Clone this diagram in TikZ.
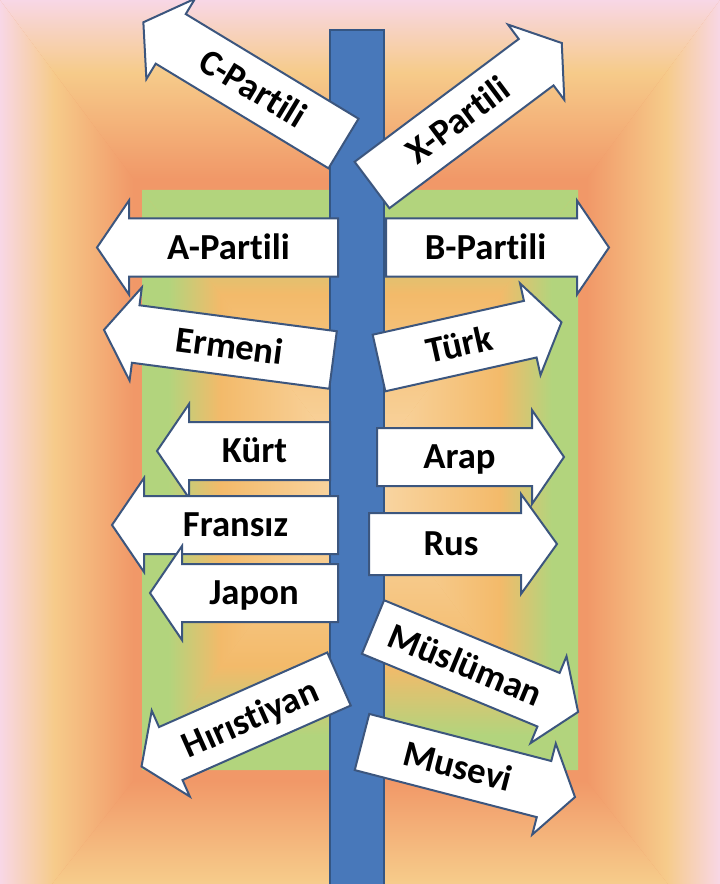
\documentclass[tikz,border=0pt]{standalone}
\usepackage{fontspec}
\setmainfont{Carlito}[Ligatures=NoCommon]

\definecolor{bgpink}{RGB}{248,215,230}
\definecolor{bgpeach}{RGB}{246,203,138}
\definecolor{bgorange}{RGB}{241,152,104}
\definecolor{gngreen}{RGB}{178,212,125}
\definecolor{gnorange}{RGB}{243,186,106}
\definecolor{gnpeach}{RGB}{250,218,172}
\definecolor{poleblue}{RGB}{72,120,186}
\definecolor{poleedge}{RGB}{52,86,132}
\definecolor{signedge}{RGB}{60,86,126}

\pgfdeclarehorizontalshading{bgband}{100bp}{color(0bp)=(bgpink); color(25bp)=(bgpink); color(44bp)=(bgpeach); color(72bp)=(bgorange); color(100bp)=(bgorange)}
\pgfdeclarehorizontalshading{gnband}{100bp}{color(0bp)=(gngreen); color(25bp)=(gngreen); color(31bp)=(gngreen); color(43bp)=(gnorange); color(75bp)=(gnpeach); color(100bp)=(gnpeach)}

\tikzset{every picture/.style={line width=0.75pt}}
\tikzset{
  signarrow/.style={draw=signedge, fill=white, line width=1.5pt, line join=miter},
  signtext/.style={inner sep=0pt, text height=17.7pt, text depth=0pt, font=\bfseries\fontsize{27.5}{31}\selectfont},
}

\begin{document}
\begin{tikzpicture}[x=0.75pt,y=0.75pt,yscale=-1,xscale=1]
        \useasboundingbox (0,0) rectangle (720,884);
        \clip (0,0) rectangle (720,884);

        %Shape: Background bands [id:dp2071]
        \fill [bgorange] (0,0) rectangle (720,884) ;
        \shade [shading=bgband] (0,0) -- (142,190) -- (142,770) -- (0,950) -- cycle ;
        \shade [shading=bgband, shading angle=180] (720,0) -- (578,190) -- (578,770) -- (720,950) -- cycle ;
        \shade [shading=bgband, shading angle=-90] (0,0) -- (720,0) -- (578,190) -- (142,190) -- cycle ;
        \shade [shading=bgband, shading angle=90] (142,770) -- (578,770) -- (720,950) -- (0,950) -- cycle ;

        %Shape: Rectangle [id:dp3385]
        \fill [gnorange] (142,190) rectangle (578,770) ;
        \shade [shading=gnband] (142,190) -- (360,480) -- (142,770) -- cycle ;
        \shade [shading=gnband, shading angle=180] (578,190) -- (360,480) -- (578,770) -- cycle ;
        \shade [shading=gnband, shading angle=-90] (142,190) -- (578,190) -- (360,480) -- cycle ;
        \shade [shading=gnband, shading angle=90] (142,770) -- (578,770) -- (360,480) -- cycle ;

        %Shape: Rectangle [id:dp5519]
        \draw [draw=poleedge, fill=poleblue, line width=1.2pt] (330,30) -- (384,30) -- (384,890) -- (330,890) -- cycle ;

        %Shape: Left Arrow [id:dp1142]
        \draw [signarrow] [shift={(343.5,143.5)}, rotate=31.2] (0,-29) -- (-202,-29) -- (-202,-47) -- (-234,0) -- (-202,47) -- (-202,29) -- (0,29) -- cycle ;
        % Text Node
        \draw [shift={(343.5,143.5)}, rotate=31.2] (-106,0) node (cpartili) [signtext, rotate=-31.2] {C-Partili};

        %Shape: Right Arrow [id:dp7760]
        \draw [signarrow] [shift={(372,185)}, rotate=-36.8] (0,-29) -- (205,-29) -- (205,-47) -- (237,0) -- (205,47) -- (205,29) -- (0,29) -- cycle ;
        % Text Node
        \draw [shift={(372,185)}, rotate=-36.8] (107.5,0) node (xpartili) [signtext, rotate=36.8] {X-Partili};

        %Shape: Left Arrow [id:dp4418]
        \draw [signarrow] [shift={(338,247.5)}] (0,-29) -- (-209,-29) -- (-209,-47) -- (-241,0) -- (-209,47) -- (-209,29) -- (0,29) -- cycle ;
        % Text Node
        \draw (228.5,247.5) node (apartili) [signtext] {A-Partili};

        %Shape: Right Arrow [id:dp9025]
        \draw [signarrow] [shift={(386,247.5)}] (0,-29) -- (191,-29) -- (191,-47) -- (223,0) -- (191,47) -- (191,29) -- (0,29) -- cycle ;
        % Text Node
        \draw (485.5,247.5) node (bpartili) [signtext] {B-Partili};

        %Shape: Left Arrow [id:dp6603]
        \draw [signarrow] [shift={(333,360)}, rotate=7.5] (0,-29) -- (-199,-29) -- (-199,-47) -- (-231,0) -- (-199,47) -- (-199,29) -- (0,29) -- cycle ;
        % Text Node
        \draw [shift={(333,360)}, rotate=7.5] (-104.5,0) node (ermeni) [signtext, rotate=-7.5] {Ermeni};

        %Shape: Right Arrow [id:dp2287]
        \draw [signarrow] [shift={(379,363)}, rotate=-12.6] (0,-29) -- (155,-29) -- (155,-47) -- (187,0) -- (155,47) -- (155,29) -- (0,29) -- cycle ;
        % Text Node
        \draw [shift={(379,363)}, rotate=-12.6] (82.5,0) node (turk) [signtext, rotate=12.6] {Türk};

        %Shape: Left Arrow [id:dp8134]
        \draw [signarrow] [shift={(330,451)}] (0,-29) -- (-141,-29) -- (-141,-47) -- (-173,0) -- (-141,47) -- (-141,29) -- (0,29) -- cycle ;
        % Text Node
        \draw (254.5,451) node (kurt) [signtext] {Kürt};

        %Shape: Right Arrow [id:dp3950]
        \draw [signarrow] [shift={(377,457)}] (0,-29) -- (155,-29) -- (155,-47) -- (187,0) -- (155,47) -- (155,29) -- (0,29) -- cycle ;
        % Text Node
        \draw (459.5,457) node (arap) [signtext] {Arap};

        %Shape: Left Arrow [id:dp5371]
        \draw [signarrow] [shift={(338,525)}] (0,-29) -- (-194,-29) -- (-194,-47) -- (-226,0) -- (-194,47) -- (-194,29) -- (0,29) -- cycle ;
        % Text Node
        \draw (235.5,525) node (fransiz) [signtext] {Fransız};

        %Shape: Right Arrow [id:dp1796]
        \draw [signarrow] [shift={(369,544)}] (0,-31) -- (152,-31) -- (152,-50) -- (188,0) -- (152,50) -- (152,31) -- (0,31) -- cycle ;
        % Text Node
        \draw (451,544) node (rus) [signtext] {Rus};

        %Shape: Left Arrow [id:dp7428]
        \draw [signarrow] [shift={(338,593)}] (0,-29) -- (-156,-29) -- (-156,-47) -- (-188,0) -- (-156,47) -- (-156,29) -- (0,29) -- cycle ;
        % Text Node
        \draw (254,593) node (japon) [signtext] {Japon};

        %Shape: Right Arrow [id:dp6051]
        \draw [signarrow] [shift={(373,627)}, rotate=22.5] (0,-29) -- (190,-29) -- (190,-47) -- (222,0) -- (190,47) -- (190,29) -- (0,29) -- cycle ;
        % Text Node
        \draw [shift={(373,627)}, rotate=22.5] (100,0) node (musluman) [signtext, rotate=-22.5] {Müslüman};

        %Shape: Left Arrow [id:dp2964]
        \draw [signarrow] [shift={(339,679)}, rotate=-23.9] (0,-29) -- (-184,-29) -- (-184,-47) -- (-216,0) -- (-184,47) -- (-184,29) -- (0,29) -- cycle ;
        % Text Node
        \draw [shift={(339,679)}, rotate=-23.9] (-97,0) node (hiristiyan) [signtext, rotate=23.9] {Hırıstiyan};

        %Shape: Right Arrow [id:dp8812]
        \draw [signarrow] [shift={(362,742)}, rotate=14.5] (0,-29) -- (188,-29) -- (188,-47) -- (220,0) -- (188,47) -- (188,29) -- (0,29) -- cycle ;
        % Text Node
        \draw [shift={(362,742)}, rotate=14.5] (99,0) node (musevi) [signtext, rotate=-14.5] {Musevi};

\end{tikzpicture}
\end{document}
